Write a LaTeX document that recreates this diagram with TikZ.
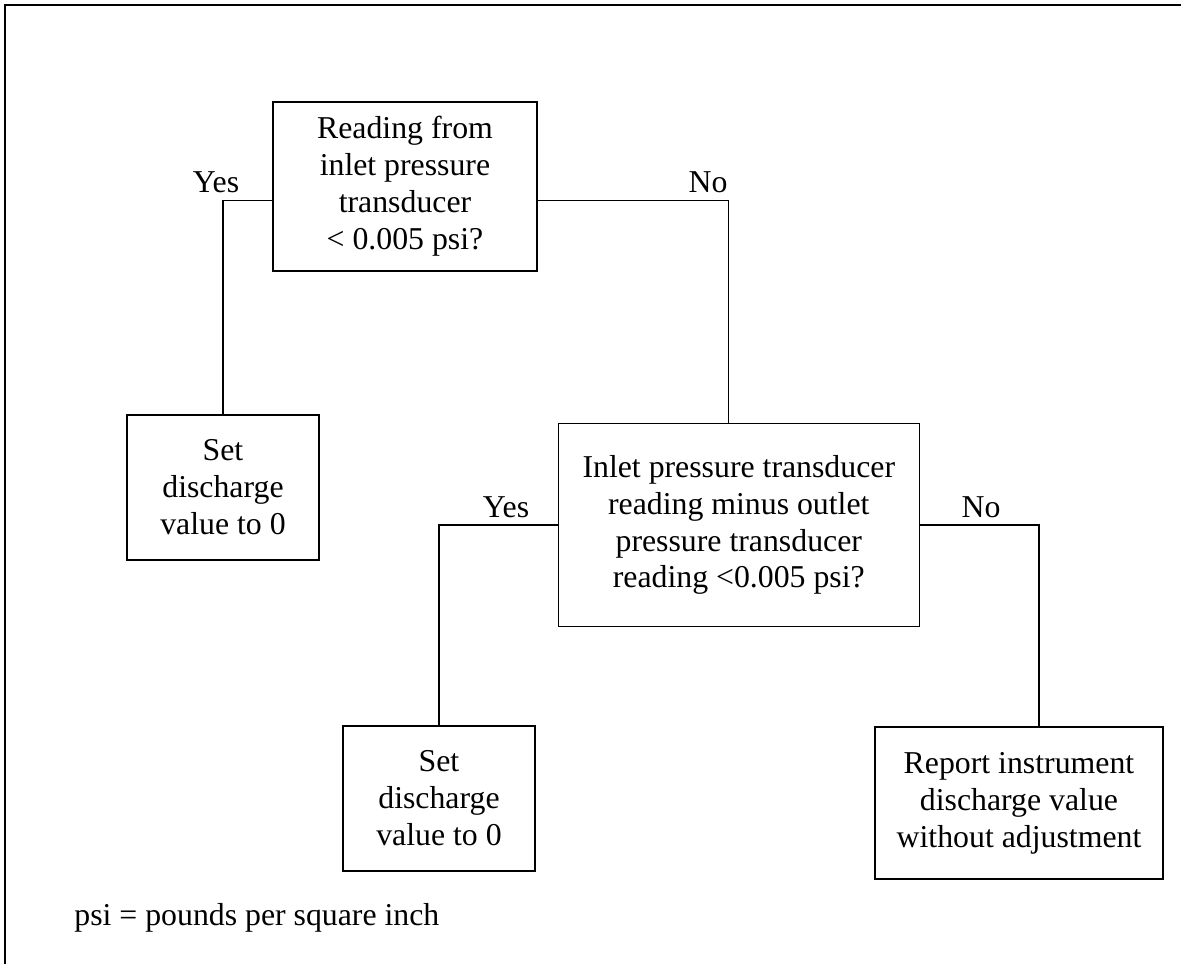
\documentclass[tikz,border=0pt]{standalone}
\usepackage{fontspec}
\setmainfont{Liberation Serif}
\usepackage{tikz}

\begin{document}
\begin{tikzpicture}[x=0.02cm,y=-0.02cm,
	font=\fontsize{18.1}{21}\selectfont,
	box/.style={draw,line width=0.8pt,align=center,inner sep=0pt},
	lbl/.style={anchor=base,inner sep=0pt}]
	\useasboundingbox (0,0) rectangle (1181,964);
	\draw[line width=0.9pt] (5,5) rectangle (1200,990);

	\node[box,minimum width=5.28cm,minimum height=3.38cm] (1) at (405,186.5) {Reading from\\inlet pressure\\transducer\\< 0.005 psi?};
	\node[box,minimum width=3.84cm,minimum height=2.9cm] (2) at (223,487.5) {Set\\discharge\\value to 0};
	\node[box,minimum width=7.22cm,minimum height=4.06cm] (3) at (738.8,525) {Inlet pressure transducer\\reading minus outlet\\pressure transducer\\reading <0.005 psi?};
	\node[box,minimum width=3.84cm,minimum height=2.9cm] (4) at (439,798.5) {Set\\discharge\\value to 0};
	\node[box,minimum width=5.76cm,minimum height=3.04cm] (5) at (1019,803) {Report instrument\\discharge value\\without adjustment};

	\node[lbl] (6) at (216,192) {Yes};
	\node[lbl] (7) at (708,192) {No};
	\node[lbl] (8) at (506,517) {Yes};
	\node[lbl] (9) at (981,517) {No};
	\node[anchor=base west,inner sep=0pt] (10) at (74,925) {psi = pounds per square inch};

	\draw[line width=0.6pt] (1.186) -| (2.north);
	\draw[line width=0.6pt] (1.354) -| ([xshift=-0.2cm]3.north);
	\draw[line width=0.6pt] (3.west) -| (4.north);
	\draw[line width=0.6pt] (3.east) -| ([xshift=0.4cm]5.north);
\end{tikzpicture}
\end{document}
